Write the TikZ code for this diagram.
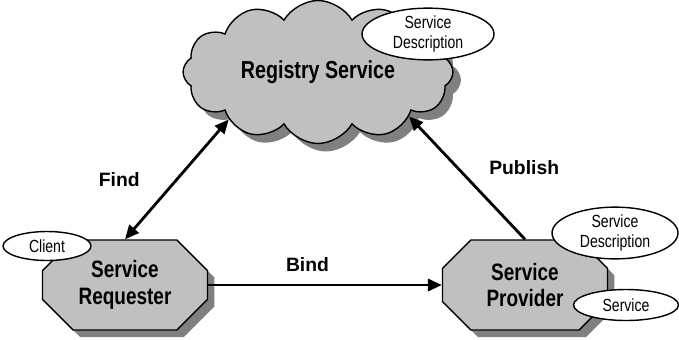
\documentclass[tikz,border=0pt]{standalone}
\usepackage{fontspec}
\setmainfont{Liberation Sans}
\newfontfamily\narrowfont[FakeStretch=0.8]{Liberation Sans}
\usetikzlibrary{shapes.symbols,shapes.misc,shapes.geometric,shadows,arrows.meta}

\definecolor{boxgray}{RGB}{192,192,192}
\definecolor{shadowgray}{RGB}{128,128,128}

\tikzstyle{registry}=[shape=cloud,
                cloud puffs=12,
                cloud puff arc=120,
                aspect=2.1,
                draw=black,
                fill=boxgray,
                minimum width=5.4cm,
                minimum height=2.6cm,
                font=\narrowfont\bfseries\fontsize{14}{16}\selectfont,
                drop shadow={shadow xshift=0.16cm,shadow yshift=-0.16cm,
                             fill=shadowgray,opacity=1}]
\tikzstyle{role}=[shape=chamfered rectangle,
                chamfered rectangle xsep=0.6cm,
                draw=black,
                fill=boxgray,
                minimum width=3.3cm,
                minimum height=1.8cm,
                inner sep=0pt,
                align=center,
                font=\narrowfont\bfseries\fontsize{13.5}{15.3}\selectfont,
                drop shadow={shadow xshift=0.14cm,shadow yshift=-0.14cm,
                             fill=shadowgray,opacity=1}]
\tikzstyle{tag}=[shape=ellipse,
                draw=black,
                fill=white,
                inner sep=0pt,
                align=center,
                font=\narrowfont\fontsize{10}{11.5}\selectfont]
\tikzstyle{act}=[font=\bfseries\fontsize{11}{13}\selectfont]

\begin{document}
\begin{tikzpicture}[x=0.02cm,y=-0.02cm,>={Triangle[length=8pt,width=7pt]},thick]
\useasboundingbox (0,0) rectangle (679,339);

% registry in the cloud
\node[registry] (registry) at (318,72) {Registry Service};
\node[tag,minimum width=2.64cm,minimum height=0.96cm] (regdesc) at (428,34) {Service\\Description};

% requester and provider
\node[role] (requester) at (125,285) {Service\\Requester};
\node[role] (provider) at (525,285) {Service\\Provider};

% small tags on requester and provider
\node[tag,minimum width=1.76cm,minimum height=0.58cm] (client) at (47,246) {Client};
\node[tag,minimum width=2.52cm,minimum height=0.96cm] (provdesc) at (615,233) {Service\\Description};
\node[tag,minimum width=2.1cm,minimum height=0.62cm] (service) at (626,305) {Service};

% find, bind and publish
\path[<->,line width=1.6pt] (requester.north) edge node[act,left=0.6cm] {Find} (registry.208);
\path[->,line width=1.6pt] (requester.east) edge node[act,above=0.12cm,xshift=-0.35cm] {Bind} (provider.west)
          (provider.north) edge node[act,right=0.3cm,yshift=0.2cm] {Publish} (registry.334);

\end{tikzpicture}
\end{document}
